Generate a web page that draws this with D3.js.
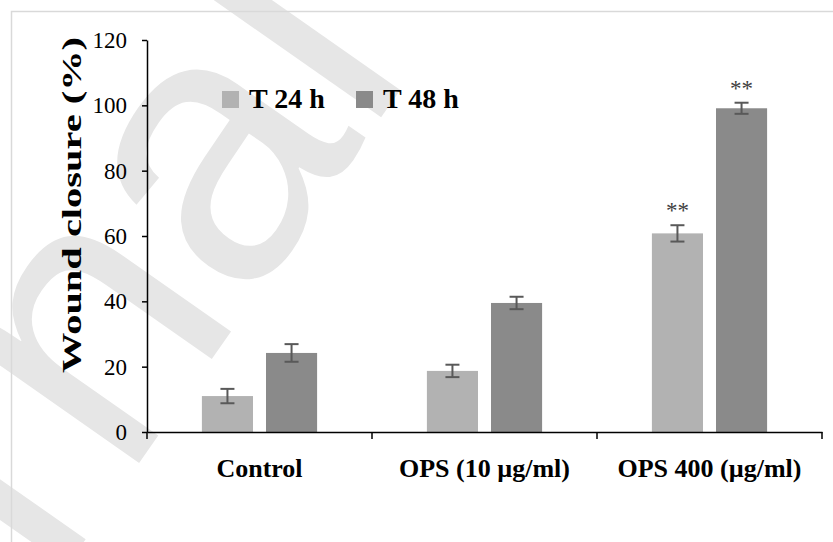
<html>
<head>
<title>Wound closure</title>
<style>
body { margin: 0; background: #ffffff; }
svg text { font-family: "Liberation Serif", "Times New Roman", serif; }
</style>
<script src="https://d3js.org/d3.v7.min.js"></script>
</head>
<body>
<div id="chart"></div>
<script>
// data
var categories = ["Control", "OPS (10 \u00b5g/ml)", "OPS 400 (\u00b5g/ml)"];
var series = ["T 24 h", "T 48 h"];
var t24 = [11.0, 18.7, 60.8];
var t48 = [24.2, 39.5, 99.1];
var t24err = [2.2, 1.9, 2.5];
var t48err = [2.7, 1.9, 1.7];
var t24sig = ["", "", "**"];
var t48sig = ["", "", "**"];
var yTicks = [0, 20, 40, 60, 80, 100, 120];
var colors = ["#b2b2b2", "#8a8a8a"];

var values = [t24, t48], errs = [t24err, t48err], sigs = [t24sig, t48sig];
var rows = [];
categories.forEach(function(c, i) {
  series.forEach(function(s, j) {
    rows.push({cat: c, ser: s, v: values[j][i], e: errs[j][i], sig: sigs[j][i]});
  });
});

var W = 833, H = 542;
var svg = d3.select("#chart").append("svg")
  .attr("width", W).attr("height", H);

// watermark
svg.append("text")
  .attr("transform", "translate(-300,1090) rotate(-55)")
  .style("font-family", "'Liberation Sans', Arial, sans-serif")
  .attr("font-size", 380)
  .attr("fill", "#e6e6e6")
  .text("Journal Pre-proof");

// frame
svg.append("rect")
  .attr("x", 11.5).attr("y", 11.5)
  .attr("width", W).attr("height", H)
  .attr("fill", "none")
  .attr("stroke", "#d9d9d9")
  .attr("stroke-width", 1.5);

var x0 = d3.scaleBand().domain(categories).range([147, 822]);
var bw = x0.bandwidth();
var x1 = d3.scaleBand().domain(series)
  .range([bw * 0.244, bw * 0.756]).paddingInner(0.203);
var y = d3.scaleLinear().domain([0, 120]).range([432, 40]);
var col = d3.scaleOrdinal().domain(series).range(colors);

// bars
svg.selectAll("rect.bar")
  .data(rows).enter().append("rect")
  .attr("class", "bar")
  .attr("x", function(d) { return x0(d.cat) + x1(d.ser); })
  .attr("y", function(d) { return y(d.v); })
  .attr("width", x1.bandwidth())
  .attr("height", function(d) { return y(0) - y(d.v); })
  .attr("fill", function(d) { return col(d.ser); });

// error bars
var eb = svg.selectAll("g.err").data(rows).enter().append("g")
  .attr("class", "err")
  .attr("stroke", "#595959").attr("stroke-width", 2);
function cx(d) { return x0(d.cat) + x1(d.ser) + x1.bandwidth() / 2; }
eb.append("line")
  .attr("x1", cx).attr("x2", cx)
  .attr("y1", function(d) { return y(d.v + d.e); })
  .attr("y2", function(d) { return y(d.v - d.e); });
eb.append("line")
  .attr("x1", function(d) { return cx(d) - 7; }).attr("x2", function(d) { return cx(d) + 7; })
  .attr("y1", function(d) { return y(d.v + d.e); })
  .attr("y2", function(d) { return y(d.v + d.e); });
eb.append("line")
  .attr("x1", function(d) { return cx(d) - 7; }).attr("x2", function(d) { return cx(d) + 7; })
  .attr("y1", function(d) { return y(d.v - d.e); })
  .attr("y2", function(d) { return y(d.v - d.e); });

// significance stars
svg.selectAll("text.sig").data(rows.filter(function(d) { return d.sig; }))
  .enter().append("text")
  .attr("class", "sig")
  .attr("x", cx)
  .attr("y", function(d) { return y(d.v + d.e) - 7; })
  .attr("text-anchor", "middle")
  .attr("font-size", 23)
  .attr("fill", "#404040")
  .text(function(d) { return d.sig; });

// y axis
var yAxis = svg.append("g")
  .attr("transform", "translate(147,0)")
  .call(d3.axisLeft(y).tickValues(yTicks).tickSize(5).tickPadding(15).tickSizeOuter(0));
yAxis.select(".domain").attr("stroke", "#000").attr("stroke-width", 1.5);
yAxis.selectAll(".tick line").attr("stroke", "#000").attr("stroke-width", 1.5);
yAxis.selectAll("text")
  .style("font-family", "'Liberation Serif', 'Times New Roman', serif")
  .attr("font-size", 23).attr("fill", "#000");

// x axis
var xAxis = svg.append("g")
  .attr("transform", "translate(0,432)")
  .call(d3.axisBottom(x0).tickSize(0).tickSizeOuter(0).tickPadding(27));
xAxis.select(".domain").attr("stroke", "#000").attr("stroke-width", 1.5);
xAxis.selectAll(".tick text")
  .style("font-family", "'Liberation Serif', 'Times New Roman', serif")
  .attr("font-size", 26).attr("font-weight", "bold").attr("fill", "#000");
// category boundary ticks
var bounds = categories.map(function(c) { return x0(c); }).concat([x0.range()[1]]);
xAxis.selectAll("line.bound").data(bounds).enter().append("line")
  .attr("class", "bound")
  .attr("x1", function(d) { return d; }).attr("x2", function(d) { return d; })
  .attr("y1", 0).attr("y2", 7)
  .attr("stroke", "#000").attr("stroke-width", 1.5);

// y title
svg.append("text")
  .attr("transform", "translate(81,205) rotate(-90)")
  .attr("text-anchor", "middle")
  .attr("font-size", 27)
  .attr("font-weight", "bold")
  .attr("textLength", 336)
  .attr("lengthAdjust", "spacingAndGlyphs")
  .text("Wound closure (%)");

// legend
var legX = [222, 356];
var leg = svg.selectAll("g.leg").data(series).enter().append("g")
  .attr("class", "leg")
  .attr("transform", function(d, i) { return "translate(" + legX[i] + ",91)"; });
leg.append("rect").attr("width", 17).attr("height", 17)
  .attr("fill", function(d) { return col(d); });
leg.append("text").attr("x", 27).attr("y", 16.5)
  .attr("font-size", 28).attr("font-weight", "bold")
  .text(function(d) { return d; });
</script>
</body>
</html>
